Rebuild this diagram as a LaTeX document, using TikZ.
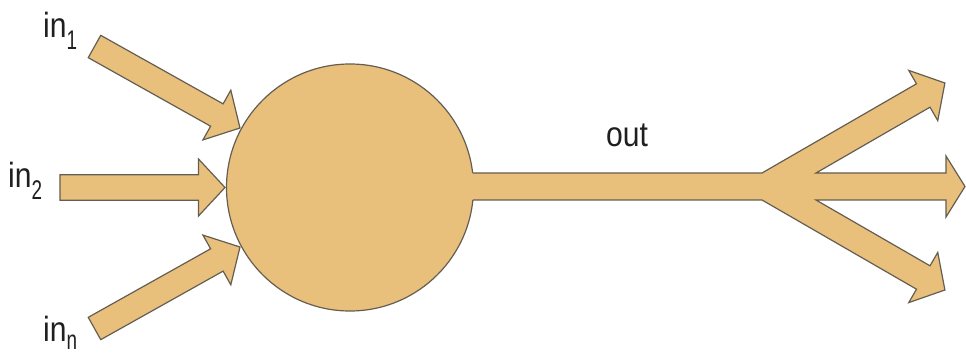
\documentclass[tikz,border=0pt]{standalone}
\usepackage{fontspec}
\usepackage{graphicx}
\setmainfont{Liberation Sans}
\usetikzlibrary{calc}
\definecolor{tanfill}{RGB}{233,191,124}
\definecolor{edgecol}{RGB}{100,94,82}
\newcommand\mainlbl[1]{\scalebox{0.86}[1]{#1}}
\newcommand\sublbl[2][-12pt]{\raisebox{#1}{\scalebox{0.7}[1]{\fontsize{27}{30}\selectfont #2}}}
\begin{document}
\begin{tikzpicture}[x=1pt,y=-1pt,line join=miter,
  body/.style={fill=tanfill, draw=edgecol, line width=1.2pt},
  fatarrow/.style={body, to path={
    let \p1=(\tikztostart), \p2=(\tikztotarget),
        \n1={atan2(\y2-\y1,\x2-\x1)},
        \n2={veclen(\x2-\x1,\y2-\y1)-26.5pt}
    in ($(\p1)+(\n1+90:12.8pt)$)
    -- ($(\p1)+(\n1:\n2)+(\n1+90:12.8pt)$)
    -- ($(\p1)+(\n1:\n2)+(\n1+90:28.5pt)$)
    -- (\p2)
    -- ($(\p1)+(\n1:\n2)+(\n1-90:28.5pt)$)
    -- ($(\p1)+(\n1:\n2)+(\n1-90:12.8pt)$)
    -- ($(\p1)+(\n1-90:12.8pt)$) -- cycle}},
  lbl/.style={inner sep=0pt, anchor=base west, text=black!88,
    font=\fontsize{35}{40}\selectfont}]
\useasboundingbox (0,0) rectangle (966,358);

% neuron body
\node[body, circle, minimum size=247pt, inner sep=0pt] (neuron) at (350,187.5) {};

% input arrows
\coordinate (t1) at (94.5,46.5);  \coordinate (h1) at (240,128);
\coordinate (t2) at (60,187.5);   \coordinate (h2) at (225,187.5);
\coordinate (tn) at (94.5,328.5); \coordinate (hn) at (240,247);
\draw[fatarrow] (t1) to (h1);
\draw[fatarrow] (t2) to (h2);
\draw[fatarrow] (tn) to (hn);

% output axon with three branches
\def\outpath{(762,173) -- (916.5,83.8) -- (908.75,70.4) -- (944.9,83)
  -- (937.75,120.6) -- (930,107.2) -- (816,173) -- (946,173) -- (946,156)
  -- (965,186.5) -- (946,217) -- (946,200) -- (816,200) -- (930,265.8)
  -- (937.75,252.4) -- (944.9,290) -- (908.75,302.6) -- (916.5,289.2)
  -- (762,200)}
\fill[tanfill] (455,173) -- \outpath -- (455,200) -- cycle;
\draw[draw=edgecol, line width=1.2pt] (472.6,173) -- \outpath -- (472.9,200);

% labels
\node[lbl] (in1) at (43,38) {\mainlbl{in}\sublbl{1}};
\node[lbl] (in2) at (8,188) {\mainlbl{in}\sublbl{2}};
\node[lbl] (inn) at (43,341) {\mainlbl{in}\sublbl[-8pt]{n}};
\node[lbl] (out) at (606,147) {\mainlbl{out}};
\end{tikzpicture}
\end{document}
